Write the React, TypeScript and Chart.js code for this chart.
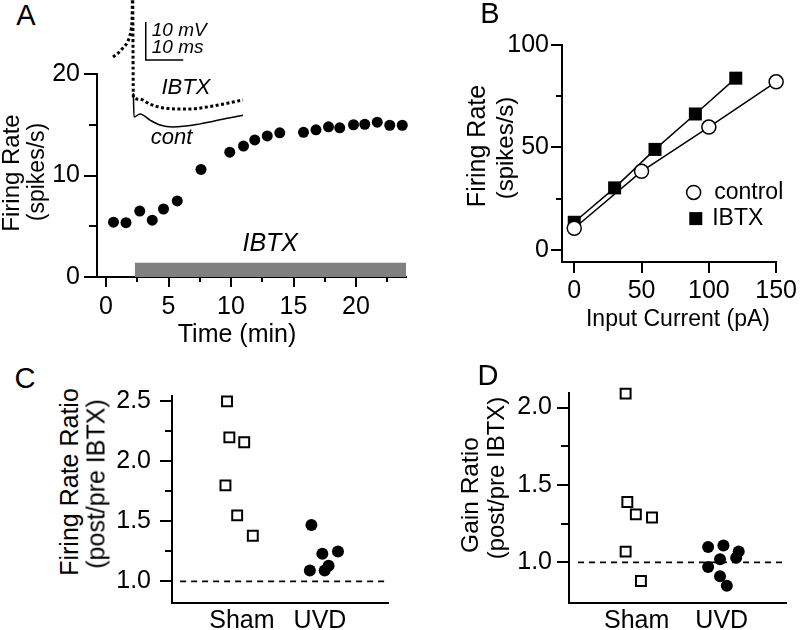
import React, { useEffect, useRef } from 'react';
import { Chart, registerables } from 'chart.js';

Chart.register(...registerables);

const FONT = '"Liberation Sans", Arial, Helvetica, sans-serif';
const BLACK = '#000000';
const WHITE = '#ffffff';
const GRAY = '#808080';
const TICK_SIZE = 25;

// ---------- Panel A: firing rate over time ----------
const timeMin = [0.6, 1.6, 2.7, 3.7, 4.6, 5.7, 7.6, 9.9, 11.0, 11.9, 12.9, 13.9, 15.8, 16.8, 17.8, 18.7, 19.8, 20.7, 21.7, 22.7, 23.7];
const firingRateA = [5.4, 5.35, 6.5, 5.6, 6.7, 7.5, 10.6, 12.3, 12.9, 13.5, 13.9, 14.2, 14.25, 14.5, 14.8, 14.7, 15.0, 15.05, 15.25, 14.95, 14.95];
const ibtxStartMin = 2.3;
const ibtxEndMin = 24;
const ibtxBarLevel = 1.4;
const aXTicks = [0, 5, 10, 15, 20];
const aXMinor = [2.5, 7.5, 12.5, 17.5, 22.5];
const aYTicks = [0, 10, 20];
const aYMinor = [5, 15];

// ---------- Panel A inset: voltage traces ----------
const preSpikeMs = [3.47, 4.8, 6.13, 7.2, 7.9, 8.35, 8.61, 8.67];
const preSpikeMv = [-48.0, -47.0, -45.6, -44.3, -42.6, -40.5, -35.6, -27.7];
const ibtxTraceMs = [8.9, 10.67, 13.33, 16.8, 23.2, 30.13, 38.13];
const ibtxTraceMv = [-58.6, -59.1, -60.4, -61.4, -61.7, -60.9, -59.3];
const contTraceMs = [8.9, 9.07, 10.67, 13.33, 16.0, 19.47, 26.67, 33.87, 38.13];
const contTraceMv = [-57.5, -63.8, -63.0, -64.6, -65.9, -66.4, -65.6, -64.1, -63.3];
const scaleBarMs = 10;
const scaleBarMv = 10;
const scaleBarOrigin = { ms: 12.2, mv: -48.8 };

// ---------- Panel B: f-I curves ----------
const currentControl = [0, 50, 100, 150];
const rateControl = [10.5, 38.3, 59.9, 82.0];
const currentIbtx = [0, 30, 60, 90, 120];
const rateIbtx = [13.4, 30.2, 49.0, 66.3, 83.8];
const bXTicks = [0, 50, 100, 150];
const bYTicks = [0, 50, 100];
const bYMinor = [25, 75];

// ---------- Panels C & D: ratios ----------
const groups = ['Sham', 'UVD'];
const cShamX = [0.81, 0.84, 1.03, 0.79, 0.94, 1.14];
const cShamY = [2.5, 2.2, 2.16, 1.8, 1.55, 1.38];
const cUvdX = [1.89, 2.03, 2.23, 1.87, 2.11, 2.06];
const cUvdY = [1.47, 1.23, 1.25, 1.09, 1.13, 1.09];
const cYTicks = [1.0, 1.5, 2.0, 2.5];
const cYMinor = [1.25, 1.75, 2.25];

const dShamX = [0.87, 0.89, 0.99, 1.18, 0.87, 1.05];
const dShamY = [2.09, 1.39, 1.31, 1.29, 1.07, 0.88];
const dUvdX = [1.84, 2.02, 1.98, 1.84, 1.98, 2.06, 2.2, 2.17];
const dUvdY = [1.1, 1.11, 1.02, 0.97, 0.91, 0.85, 1.07, 1.03];
const dYTicks = [1.0, 1.5, 2.0];
const dYMinor = [1.25, 1.75];
const refRatio = 1.0;

const pts = (xs: number[], ys: number[]) => xs.map((x, i) => ({ x, y: ys[i] }));

type Note = { text: string; x: number; y: number; size: number; italic?: boolean; align?: CanvasTextAlign };
type Key = { label: string; x: number; y: number; textX: number; shape: 'circle' | 'rect'; size: number };

function decorPlugin(o: { xMinor?: number[]; yMinor?: number[]; xLen?: number; yLen?: number; notes?: Note[]; keys?: Key[] }) {
  return {
    id: 'decor',
    afterDraw(chart: any) {
      const { ctx, chartArea: a, scales } = chart;
      const xs = scales.x;
      const ys = scales.y;
      ctx.save();
      ctx.strokeStyle = BLACK;
      ctx.lineWidth = 2;
      (o.xMinor || []).forEach((v) => {
        const px = Math.round(xs.getPixelForValue(v));
        ctx.beginPath();
        ctx.moveTo(px, a.bottom);
        ctx.lineTo(px, a.bottom + (o.xLen || 5));
        ctx.stroke();
      });
      (o.yMinor || []).forEach((v) => {
        const py = Math.round(ys.getPixelForValue(v));
        ctx.beginPath();
        ctx.moveTo(a.left, py);
        ctx.lineTo(a.left - (o.yLen || 6), py);
        ctx.stroke();
      });
      ctx.fillStyle = BLACK;
      ctx.textBaseline = 'middle';
      (o.notes || []).forEach((n) => {
        ctx.font = `${n.italic ? 'italic ' : ''}${n.size}px ${FONT}`;
        ctx.textAlign = n.align || 'center';
        ctx.fillText(n.text, xs.getPixelForValue(n.x), ys.getPixelForValue(n.y));
      });
      (o.keys || []).forEach((k) => {
        const cx = xs.getPixelForValue(k.x);
        const cy = ys.getPixelForValue(k.y);
        ctx.lineWidth = 1.5;
        if (k.shape === 'circle') {
          ctx.beginPath();
          ctx.arc(cx, cy, k.size, 0, Math.PI * 2);
          ctx.fillStyle = WHITE;
          ctx.fill();
          ctx.stroke();
        } else {
          ctx.fillStyle = BLACK;
          ctx.fillRect(cx - k.size, cy - k.size, k.size * 2, k.size * 2);
        }
        ctx.fillStyle = BLACK;
        ctx.font = `23px ${FONT}`;
        ctx.textAlign = 'left';
        ctx.fillText(k.label, xs.getPixelForValue(k.textX), cy);
      });
      ctx.restore();
    },
  };
}

function axis(min: number, max: number, ticks: number[], fmt: (v: number) => string, tickLen: number, padding: number, fit: (s: any) => void) {
  return {
    type: 'linear',
    min,
    max,
    afterBuildTicks: (s: any) => {
      s.ticks = ticks.map((v) => ({ value: v }));
    },
    afterFit: fit,
    border: { display: true, color: BLACK, width: 2 },
    grid: {
      display: true,
      drawOnChartArea: false,
      drawTicks: tickLen > 0,
      tickLength: tickLen,
      color: BLACK,
      lineWidth: 2,
    },
    ticks: {
      color: BLACK,
      font: { family: FONT, size: TICK_SIZE },
      padding,
      autoSkip: false,
      maxRotation: 0,
      callback: (v: any) => fmt(Number(v)),
    },
  };
}

type Area = { l: number; t: number; r: number; b: number };
type Geo = { area: Area; yw: number; xh: number; padTop: number; padRight: number };

function frame(g: Geo) {
  return {
    left: g.area.l - g.yw,
    top: g.area.t - g.padTop,
    width: g.area.r - g.area.l + g.yw + g.padRight,
    height: g.area.b - g.area.t + g.padTop + g.xh,
  };
}

function baseOptions(g: Geo, scales: any) {
  return {
    responsive: false,
    animation: false,
    devicePixelRatio: 1,
    events: [],
    layout: { padding: { top: g.padTop, right: g.padRight, left: 0, bottom: 0 }, autoPadding: false },
    plugins: { legend: { display: false }, tooltip: { enabled: false } },
    scales,
  };
}

const int = (v: number) => String(Math.round(v));
const one = (v: number) => v.toFixed(1);
const grp = (v: number) => groups[Math.round(v) - 1] || '';

// ---------- geometry ----------
const geoA: Geo = { area: { l: 97, t: 70, r: 406, b: 277 }, yw: 97, xh: 45, padTop: 15, padRight: 12 };
const geoB: Geo = { area: { l: 562, t: 43, r: 781, b: 262 }, yw: 72, xh: 45, padTop: 15, padRight: 19 };
const geoC: Geo = { area: { l: 172, t: 386, r: 388, b: 603 }, yw: 72, xh: 30, padTop: 14, padRight: 12 };
const geoD: Geo = { area: { l: 569, t: 387, r: 786, b: 603 }, yw: 72, xh: 30, padTop: 14, padRight: 12 };
const geoInset = { left: 100, top: 0, width: 160, height: 160 };

function makeA() {
  const g = geoA;
  return {
    type: 'scatter',
    data: {
      datasets: [
        {
          data: pts(timeMin, firingRateA),
          pointRadius: 5.5,
          pointBackgroundColor: BLACK,
          pointBorderColor: BLACK,
          pointBorderWidth: 0,
          showLine: false,
          clip: false,
        },
        {
          data: pts([ibtxStartMin, ibtxEndMin], [ibtxBarLevel, ibtxBarLevel]),
          showLine: true,
          borderWidth: 0,
          borderColor: GRAY,
          backgroundColor: GRAY,
          fill: 'origin',
          pointRadius: 0,
        },
      ],
    },
    options: baseOptions(g, {
      x: axis(-0.72, 24, aXTicks, int, 10, 5, (s: any) => { s.height = g.xh; }),
      y: axis(0, 20, aYTicks, int, 13, 4, (s: any) => { s.width = g.yw; }),
    }),
    plugins: [
      decorPlugin({
        xMinor: aXMinor,
        yMinor: aYMinor,
        xLen: 5,
        yLen: 8,
        notes: [{ text: 'IBTX', x: 13.14, y: 3.2, size: 25, italic: true }],
      }),
    ],
  };
}

function makeInset() {
  const { width, height } = geoInset;
  const xMax = width / 3.75;
  const yMax = -33;
  const yMin = yMax - height / 3.8;
  const o = scaleBarOrigin;
  return {
    type: 'scatter',
    data: {
      datasets: [
        {
          data: pts([...preSpikeMs, ...ibtxTraceMs], [...preSpikeMv, ...ibtxTraceMv]),
          showLine: true,
          borderColor: BLACK,
          borderWidth: 3,
          borderDash: [3, 2.5],
          cubicInterpolationMode: 'monotone',
          pointRadius: 0,
        },
        {
          data: pts(contTraceMs, contTraceMv),
          showLine: true,
          borderColor: BLACK,
          borderWidth: 1.5,
          cubicInterpolationMode: 'monotone',
          pointRadius: 0,
        },
        {
          data: pts([o.ms, o.ms, o.ms + scaleBarMs], [o.mv + scaleBarMv, o.mv, o.mv]),
          showLine: true,
          borderColor: BLACK,
          borderWidth: 1.5,
          pointRadius: 0,
          tension: 0,
        },
      ],
    },
    options: {
      responsive: false,
      animation: false,
      devicePixelRatio: 1,
      events: [],
      layout: { padding: 0, autoPadding: false },
      plugins: { legend: { display: false }, tooltip: { enabled: false } },
      scales: {
        x: { type: 'linear', display: false, min: 0, max: xMax },
        y: { type: 'linear', display: false, min: yMin, max: yMax },
      },
    },
    plugins: [
      decorPlugin({
        notes: [
          { text: '10 mV', x: 13.8, y: -41.2, size: 19, italic: true, align: 'left' },
          { text: '10 ms', x: 13.8, y: -45.6, size: 19, italic: true, align: 'left' },
          { text: 'IBTX', x: 22.9, y: -56.2, size: 22, italic: true },
          { text: 'cont', x: 19.1, y: -69.3, size: 22, italic: true },
        ],
      }),
    ],
  };
}

function makeB() {
  const g = geoB;
  return {
    type: 'scatter',
    data: {
      datasets: [
        {
          data: pts(currentControl, rateControl),
          showLine: true,
          borderColor: BLACK,
          borderWidth: 1.5,
          pointStyle: 'circle',
          pointRadius: 7,
          pointBackgroundColor: WHITE,
          pointBorderColor: BLACK,
          pointBorderWidth: 1.5,
          clip: false,
        },
        {
          data: pts(currentIbtx, rateIbtx),
          showLine: true,
          borderColor: BLACK,
          borderWidth: 1.5,
          pointStyle: 'rect',
          pointRadius: 9.2,
          pointBackgroundColor: BLACK,
          pointBorderColor: BLACK,
          pointBorderWidth: 0,
          clip: false,
        },
      ],
    },
    options: baseOptions(g, {
      x: axis(-9.1, 150, bXTicks, int, 11, 3, (s: any) => { s.height = g.xh; }),
      y: axis(-6, 100, bYTicks, int, 11, 2, (s: any) => { s.width = g.yw; }),
    }),
    plugins: [
      decorPlugin({
        yMinor: bYMinor,
        yLen: 6,
        keys: [
          { label: 'control', x: 88.7, y: 28, textX: 104, shape: 'circle', size: 7 },
          { label: 'IBTX', x: 90.3, y: 15.2, textX: 102.5, shape: 'rect', size: 6.5 },
        ],
      }),
    ],
  };
}

function makeRatio(g: Geo, xMin: number, xMax: number, yMin: number, yMax: number, yTicks: number[], yMinor: number[], shamX: number[], shamY: number[], uvdX: number[], uvdY: number[], dashStart: number, yPad: number, yLen: number, yMinorLen: number) {
  return {
    type: 'scatter',
    data: {
      datasets: [
        {
          data: pts(uvdX, uvdY),
          pointStyle: 'circle',
          pointRadius: 6,
          pointBackgroundColor: BLACK,
          pointBorderColor: BLACK,
          pointBorderWidth: 0,
          showLine: false,
          clip: false,
        },
        {
          data: pts(shamX, shamY),
          pointStyle: 'rect',
          pointRadius: 7,
          pointBackgroundColor: WHITE,
          pointBorderColor: BLACK,
          pointBorderWidth: 2,
          showLine: false,
          clip: false,
        },
        {
          data: pts([dashStart, xMax], [refRatio, refRatio]),
          showLine: true,
          borderColor: BLACK,
          borderWidth: 1.6,
          borderDash: [6, 5],
          pointRadius: 0,
        },
      ],
    },
    options: baseOptions(g, {
      x: axis(xMin, xMax, [1, 2], grp, 0, 3, (s: any) => { s.height = g.xh; }),
      y: axis(yMin, yMax, yTicks, one, yLen, yPad, (s: any) => { s.width = g.yw; }),
    }),
    plugins: [decorPlugin({ yMinor, yLen: yMinorLen })],
  };
}

const makeC = () => makeRatio(geoC, 0.106, 2.87, 0.82, 2.545, cYTicks, cYMinor, cShamX, cShamY, cUvdX, cUvdY, 0.21, 9, 12, 7);
const makeD = () => makeRatio(geoD, 0.204, 2.756, 0.738, 2.094, dYTicks, dYMinor, dShamX, dShamY, dUvdX, dUvdY, 0.31, 5, 12, 8);

function ChartCanvas({ box, make }: { box: { left: number; top: number; width: number; height: number }; make: () => any }) {
  const ref = useRef<HTMLCanvasElement | null>(null);
  useEffect(() => {
    if (!ref.current) return;
    const chart = new Chart(ref.current, make());
    return () => chart.destroy();
  }, []);
  return (
    <canvas
      ref={ref}
      width={box.width}
      height={box.height}
      style={{ position: 'absolute', left: box.left, top: box.top, width: box.width, height: box.height }}
    />
  );
}

type Label = { text: string; x: number; y: number; size: number; rot?: boolean };
const labels: Label[] = [
  { text: 'A', x: 26, y: 15, size: 29 },
  { text: 'B', x: 490, y: 13, size: 29 },
  { text: 'C', x: 25, y: 378, size: 29 },
  { text: 'D', x: 488, y: 375, size: 29 },
  { text: 'Firing Rate', x: 11, y: 173, size: 24, rot: true },
  { text: '(spikes/s)', x: 36, y: 172, size: 23, rot: true },
  { text: 'Time (min)', x: 237, y: 333, size: 25 },
  { text: 'Firing Rate', x: 476, y: 146, size: 25, rot: true },
  { text: '(spikes/s)', x: 505, y: 148, size: 24, rot: true },
  { text: 'Input Current (pA)', x: 678, y: 318, size: 23 },
  { text: 'Firing Rate Ratio', x: 69, y: 482, size: 25, rot: true },
  { text: '(post/pre IBTX)', x: 96, y: 484, size: 25, rot: true },
  { text: 'Gain Ratio', x: 470, y: 495, size: 24.5, rot: true },
  { text: '(post/pre IBTX)', x: 496, y: 478, size: 24, rot: true },
];

export default function App() {
  return (
    <div
      style={{
        position: 'absolute',
        left: 0,
        top: 0,
        width: 800,
        height: 630,
        overflow: 'hidden',
        background: WHITE,
        fontFamily: FONT,
        color: BLACK,
      }}
    >
      <ChartCanvas box={frame(geoA)} make={makeA} />
      <ChartCanvas box={frame(geoB)} make={makeB} />
      <ChartCanvas box={frame(geoC)} make={makeC} />
      <ChartCanvas box={frame(geoD)} make={makeD} />
      <ChartCanvas box={geoInset} make={makeInset} />
      {labels.map((l, i) => (
        <div
          key={i}
          style={{
            position: 'absolute',
            left: l.x,
            top: l.y,
            fontSize: l.size,
            lineHeight: 1,
            whiteSpace: 'nowrap',
            transform: `translate(-50%, -50%)${l.rot ? ' rotate(-90deg)' : ''}`,
          }}
        >
          {l.text}
        </div>
      ))}
    </div>
  );
}
